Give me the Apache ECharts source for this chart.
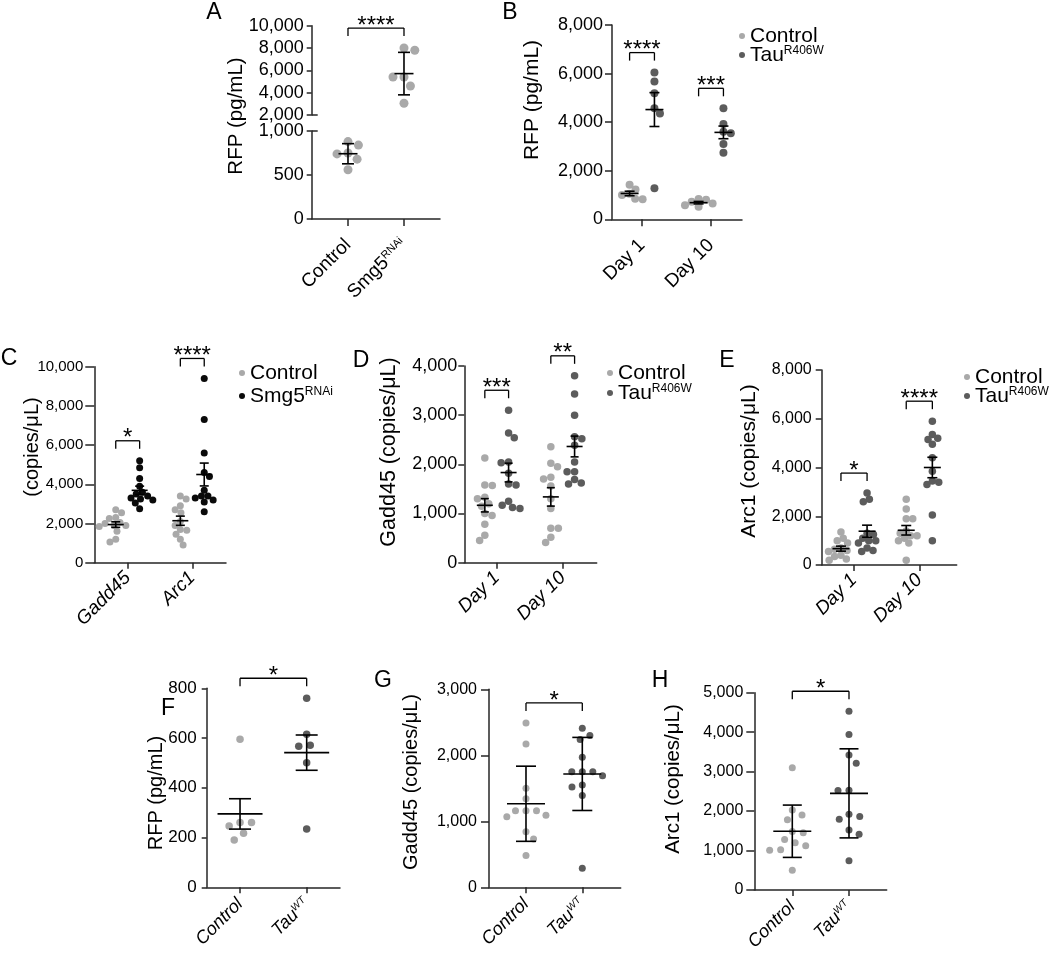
<!DOCTYPE html>
<html><head><meta charset="utf-8">
<script src="https://cdn.jsdelivr.net/npm/echarts@6/dist/echarts.min.js"></script>
<style>html,body{margin:0;padding:0;background:#fff}#c{width:1050px;height:959px}</style>
</head><body><div id="c"></div>
<script>
// ================= DATA =================
// Panel A
const aCategories = ['Control', 'Smg5^RNAi'];
const aYTicksUpper = [2000, 4000, 6000, 8000, 10000];
const aYTicksLower = [0, 500, 1000];
const aControl = [880, 840, 750, 740, 680, 560];
const aSmg5 = [8000, 7800, 5400, 5400, 4600, 3050];
// Panel B
const bCategories = ['Day 1', 'Day 10'];
const bYTicks = [0, 2000, 4000, 6000, 8000];
const bControlDay1 = [1420, 1230, 1050, 1000, 850, 830];
const bTauDay1 = [6040, 5670, 5190, 4570, 4360, 1280];
const bControlDay10 = [840, 800, 720, 650, 580, 520];
const bTauDay10 = [4570, 3920, 3600, 3540, 3100, 2740];
// Panel C
const cCategories = ['Gadd45', 'Arc1'];
const cYTicks = [0, 2000, 4000, 6000, 8000, 10000];
const cControlGadd45 = [2700, 2550, 2300, 2250, 2050, 2000, 1900, 1900, 1850, 1600, 1200, 1050];
const cSmg5Gadd45 = [5200, 4850, 4300, 3900, 3600, 3500, 3400, 3300, 3250, 3200, 3050, 2750];
const cControlArc1 = [3400, 3250, 2900, 2700, 2550, 2100, 1900, 1700, 1650, 1450, 1200, 900];
const cSmg5Arc1 = [9400, 7300, 5600, 4600, 4400, 3700, 3400, 3400, 3300, 3200, 3100, 2600];
// Panel D
const dCategories = ['Day 1', 'Day 10'];
const dYTicks = [0, 1000, 2000, 3000, 4000];
const dControlDay1 = [2130, 1580, 1570, 1330, 1300, 1200, 1150, 1000, 960, 780, 560, 450];
const dTauDay1 = [3100, 2640, 2540, 2050, 2030, 1820, 1600, 1580, 1250, 1170, 1120, 1100];
const dControlDay10 = [2360, 2020, 1950, 1740, 1700, 1560, 1300, 1100, 700, 700, 520, 410];
const dTauDay10 = [3800, 3430, 3000, 2560, 2520, 2390, 2050, 1850, 1850, 1690, 1620, 1600];
// Panel E
const eCategories = ['Day 1', 'Day 10'];
const eYTicks = [0, 2000, 4000, 6000, 8000];
const eControlDay1 = [1350, 1100, 1000, 900, 700, 650, 600, 550, 400, 350, 250, 200];
const eTauDay1 = [2950, 2700, 2600, 1300, 1250, 1100, 1000, 1000, 900, 700, 590, 550];
const eControlDay10 = [2700, 2300, 1900, 1900, 1400, 1300, 1200, 1200, 1100, 1000, 900, 200];
const eTauDay10 = [5900, 5350, 5200, 5150, 4950, 4400, 3850, 3450, 3400, 3300, 2050, 1000];
// Panel F
const fCategories = ['Control', 'Tau^WT'];
const fYTicks = [0, 200, 400, 600, 800];
const fControl = [595, 261, 261, 246, 217, 190];
const fTau = [760, 615, 571, 567, 501, 234];
// Panel G
const gCategories = ['Control', 'Tau^WT'];
const gYTicks = [0, 1000, 2000, 3000];
const gControl = [2490, 2170, 1500, 1340, 1160, 1160, 1160, 1090, 1070, 840, 730, 480];
const gTau = [2410, 2300, 2240, 1970, 1750, 1750, 1750, 1690, 1550, 1520, 1390, 290];
// Panel H
const hCategories = ['Control', 'Tau^WT'];
const hYTicks = [0, 1000, 2000, 3000, 4000, 5000];
const hControl = [3100, 2030, 1900, 1780, 1480, 1450, 1280, 1200, 1120, 1020, 1010, 500];
const hTau = [4530, 3940, 3420, 3210, 2530, 2520, 1920, 1860, 1790, 1520, 1410, 740];

// ================= STYLE / HELPERS =================
const FONT = '"Liberation Sans", Arial, Helvetica, sans-serif';
const LIGHT = '#a9a9a9', DARK = '#5c5c5c', BLACK = '#0a0a0a';
const AXIS = '#262626';

const option = {
  animation: false, backgroundColor: '#ffffff', textStyle: { fontFamily: FONT },
  grid: [], xAxis: [], yAxis: [], series: [], graphic: []
};

function fmtNum(v) { return String(v).replace(/\B(?=(\d{3})+(?!\d))/g, ','); }
function rich(s) { const p = s.split('^'); return p.length > 1 ? p[0] + '{sup|' + p[1] + '}' : s; }
function mean(a) { return a.reduce((s, v) => s + v, 0) / a.length; }
function sd(a) { const m = mean(a); return Math.sqrt(a.reduce((s, v) => s + (v - m) * (v - m), 0) / (a.length - 1)); }
function sem(a) { return sd(a) / Math.sqrt(a.length); }

// greedy beeswarm: each point goes to the nearest free horizontal slot (in px)
function swarm(values, pxPerY, dist) {
  const order = values.map((v, i) => i).sort((a, b) => values[b] - values[a]);
  const placed = [], offs = new Array(values.length).fill(0);
  let side = 1;
  order.forEach(k => {
    const y = values[k] * pxPerY;
    const cands = [0];
    placed.forEach(p => {
      const dy = Math.abs(p.y - y);
      if (dy < dist) { const dx = Math.sqrt(dist * dist - dy * dy) + 0.01; cands.push(p.x + dx, p.x - dx); }
    });
    cands.sort((a, b) => (Math.abs(a) - Math.abs(b)) || (Math.sign(b) === side ? 1 : -1));
    for (const c of cands) {
      if (placed.every(p => (p.x - c) * (p.x - c) + (p.y - y) * (p.y - y) >= dist * dist - 0.05)) {
        offs[k] = c; placed.push({ x: c, y: y });
        if (c !== 0) side = -Math.sign(c);
        break;
      }
    }
  });
  return offs;
}

function errRender(mh, ch) {
  return function (params, api) {
    const x = api.value(0), m = api.value(1), e = api.value(2);
    const pm = api.coord([x, m]), pt = api.coord([x, m + e]), pb = api.coord([x, m - e]);
    const st = { stroke: '#000', lineWidth: 1.6 };
    return { type: 'group', children: [
      { type: 'line', shape: { x1: pm[0] - mh, y1: pm[1], x2: pm[0] + mh, y2: pm[1] }, style: st },
      { type: 'line', shape: { x1: pt[0], y1: pt[1], x2: pb[0], y2: pb[1] }, style: st },
      { type: 'line', shape: { x1: pt[0] - ch, y1: pt[1], x2: pt[0] + ch, y2: pt[1] }, style: st },
      { type: 'line', shape: { x1: pb[0] - ch, y1: pb[1], x2: pb[0] + ch, y2: pb[1] }, style: st }
    ] };
  };
}

function bracketRender(text, fs) {
  return function (params, api) {
    const p1 = api.coord([api.value(0), api.value(2)]);
    const p2 = api.coord([api.value(1), api.value(2)]);
    const y = p1[1] - 20, leg = 8;
    const st = { stroke: '#000', lineWidth: 1.3 };
    return { type: 'group', children: [
      { type: 'line', shape: { x1: p1[0], y1: y + leg, x2: p1[0], y2: y }, style: st },
      { type: 'line', shape: { x1: p1[0], y1: y, x2: p2[0], y2: y }, style: st },
      { type: 'line', shape: { x1: p2[0], y1: y, x2: p2[0], y2: y + leg }, style: st },
      { type: 'text', x: (p1[0] + p2[0]) / 2, y: y - 2,
        style: { text: text, fontSize: fs, fontFamily: FONT, fill: '#000', align: 'center', verticalAlign: 'middle' } }
    ] };
  };
}

function breakRender(params, api) {
  const p = api.coord([api.value(0), api.value(1)]);
  return { type: 'line', shape: { x1: p[0], y1: p[1], x2: p[0] + 6, y2: p[1] }, style: { stroke: AXIS, lineWidth: 1.5 } };
}

function buildPanel(p) {
  const blockIdx = p.blocks.map(b => {
    const gi = option.grid.length;
    option.grid.push({ left: b.grid[0], top: b.grid[1], width: b.grid[2], height: b.grid[3], containLabel: false, outerBoundsMode: 'none' });
    const showX = b.showX !== false;
    option.xAxis.push({
      type: 'value', gridIndex: gi, min: p.xRange[0], max: p.xRange[1], show: showX,
      axisLine: { show: true, onZero: false, lineStyle: { color: AXIS, width: 1.5 } },
      axisTick: { show: true, customValues: p.xTicks, length: p.xTickLen, lineStyle: { color: AXIS, width: 1.5 } },
      axisLabel: {
        show: true, customValues: p.xTicks, rotate: 45, margin: p.xMargin,
        fontSize: p.xFont, fontStyle: p.xItalic ? 'italic' : 'normal', fontFamily: FONT, color: '#000',
        formatter: v => rich(p.xLabels[Math.round(v) - 1] || ''),
        rich: { sup: { fontSize: Math.round(p.xFont * 0.58), fontStyle: p.xItalic ? 'italic' : 'normal', fontFamily: FONT, color: '#000', verticalAlign: 'top' } }
      },
      splitLine: { show: false }
    });
    const yt = b.yTicks;
    option.yAxis.push({
      type: 'value', gridIndex: gi, min: yt[0], max: yt[yt.length - 1], interval: yt[1] - yt[0],
      axisLine: { show: true, onZero: false, lineStyle: { color: AXIS, width: 1.5 } },
      axisTick: { show: true, customValues: yt, length: b.tickLen, lineStyle: { color: AXIS, width: 1.5 } },
      axisLabel: { show: true, customValues: yt, formatter: v => fmtNum(v), fontSize: b.yFont, margin: b.labelMargin, color: '#000', fontFamily: FONT },
      splitLine: { show: false }
    });
    if (b.breakAt !== undefined) {
      option.series.push({ type: 'custom', xAxisIndex: gi, yAxisIndex: gi, silent: true, clip: false, z: 5,
        encode: { x: 0, y: 1 }, data: [[p.xRange[0], b.breakAt]], renderItem: breakRender });
    }
    return gi;
  });
  p.groups.forEach(g => {
    const bi = g.block || 0, b = p.blocks[bi], gi = blockIdx[bi];
    const yt = b.yTicks;
    const pxPerX = b.grid[2] / (p.xRange[1] - p.xRange[0]);
    const pxPerY = b.grid[3] / (yt[yt.length - 1] - yt[0]);
    const offs = swarm(g.values, pxPerY, p.gap);
    option.series.push({ type: 'scatter', xAxisIndex: gi, yAxisIndex: gi, symbol: 'circle', symbolSize: p.dot, silent: true, z: 2,
      itemStyle: { color: g.color, opacity: 1 }, data: g.values.map((v, i) => [g.x + offs[i] / pxPerX, v]) });
    const m = mean(g.values), e = p.err === 'sd' ? sd(g.values) : sem(g.values);
    option.series.push({ type: 'custom', xAxisIndex: gi, yAxisIndex: gi, silent: true, clip: false, z: 5,
      encode: { x: 0, y: 1 }, data: [[g.x, m, e]], renderItem: errRender(p.meanHalf, p.capHalf) });
  });
  p.brackets.forEach(br => {
    const gA = p.groups[br.a], gB = p.groups[br.b];
    const mA = Math.max(...gA.values), mB = Math.max(...gB.values);
    const bi = blockIdx[mA >= mB ? (gA.block || 0) : (gB.block || 0)];
    option.series.push({ type: 'custom', xAxisIndex: bi, yAxisIndex: bi, silent: true, clip: false, z: 5,
      encode: { x: [0, 1], y: 2 }, data: [[gA.x, gB.x, Math.max(mA, mB)]], renderItem: bracketRender(br.text, 24) });
  });
}

function addText(x, y, text, fs, rot) {
  option.graphic.push({ type: 'text', x: x, y: y, rotation: rot || 0, silent: true,
    style: { text: text, fontSize: fs, fontFamily: FONT, fill: '#000', align: 'center', verticalAlign: 'middle' } });
}
function addLegend(x, ys, items, fs) {
  items.forEach((it, i) => {
    option.graphic.push({ type: 'circle', silent: true, shape: { cx: x, cy: ys[i], r: 3 }, style: { fill: it.color } });
    option.graphic.push({ type: 'text', silent: true, x: x + 8, y: ys[i],
      style: { text: rich(it.name), fontSize: fs, fontFamily: FONT, fill: '#000', align: 'left', verticalAlign: 'middle',
        rich: { sup: { fontSize: 12, fontFamily: FONT, fill: '#000', verticalAlign: 'top' } } } });
  });
}

// ================= PANELS =================
const shB = 0.18, shC = 0.185, shD = 0.18, shE = 0.2;
buildPanel({
  blocks: [
    { grid: [311.7, 25.7, 128.3, 89.3], yTicks: aYTicksUpper, showX: false, yFont: 18, tickLen: 5, labelMargin: 8, breakAt: aYTicksUpper[0] },
    { grid: [311.7, 131, 128.3, 88], yTicks: aYTicksLower, yFont: 18, tickLen: 5, labelMargin: 8, breakAt: aYTicksLower[aYTicksLower.length - 1] }
  ],
  xRange: [0.352, 2.643], xTicks: [1, 2], xLabels: aCategories, xFont: 19, xItalic: false, xTickLen: 7, xMargin: 23,
  groups: [{ block: 1, x: 1, values: aControl, color: LIGHT }, { block: 0, x: 2, values: aSmg5, color: LIGHT }],
  err: 'sd', meanHalf: 9.5, capHalf: 6, dot: 9, gap: 11,
  brackets: [{ a: 0, b: 1, text: '****' }]
});
buildPanel({
  blocks: [{ grid: [612, 25, 130, 194.3], yTicks: bYTicks, yFont: 18, tickLen: 7, labelMargin: 9 }],
  xRange: [0.565, 2.449], xTicks: [1, 2], xLabels: bCategories, xFont: 19, xItalic: false, xTickLen: 7, xMargin: 23,
  groups: [
    { x: 1 - shB, values: bControlDay1, color: LIGHT }, { x: 1 + shB, values: bTauDay1, color: DARK },
    { x: 2 - shB, values: bControlDay10, color: LIGHT }, { x: 2 + shB, values: bTauDay10, color: DARK }
  ],
  err: 'sem', meanHalf: 9, capHalf: 5, dot: 8, gap: 7.5,
  brackets: [{ a: 0, b: 1, text: '****' }, { a: 2, b: 3, text: '***' }]
});
buildPanel({
  blocks: [{ grid: [94.3, 366.7, 131.7, 196], yTicks: cYTicks, yFont: 15, tickLen: 9, labelMargin: 11 }],
  xRange: [0.483, 2.522], xTicks: [1, 2], xLabels: cCategories, xFont: 19, xItalic: true, xTickLen: 6, xMargin: 12,
  groups: [
    { x: 1 - shC, values: cControlGadd45, color: LIGHT }, { x: 1 + shC, values: cSmg5Gadd45, color: BLACK },
    { x: 2 - shC, values: cControlArc1, color: LIGHT }, { x: 2 + shC, values: cSmg5Arc1, color: BLACK }
  ],
  err: 'sem', meanHalf: 8, capHalf: 4.5, dot: 7, gap: 6.5,
  brackets: [{ a: 0, b: 1, text: '*' }, { a: 2, b: 3, text: '****' }]
});
buildPanel({
  blocks: [{ grid: [464.3, 366, 132.4, 196.7], yTicks: dYTicks, yFont: 18, tickLen: 6, labelMargin: 7 }],
  xRange: [0.509, 2.515], xTicks: [1, 2], xLabels: dCategories, xFont: 19, xItalic: true, xTickLen: 6, xMargin: 12,
  groups: [
    { x: 1 - shD, values: dControlDay1, color: LIGHT }, { x: 1 + shD, values: dTauDay1, color: DARK },
    { x: 2 - shD, values: dControlDay10, color: LIGHT }, { x: 2 + shD, values: dTauDay10, color: DARK }
  ],
  err: 'sem', meanHalf: 8, capHalf: 4, dot: 7.5, gap: 7.5,
  brackets: [{ a: 0, b: 1, text: '***' }, { a: 2, b: 3, text: '**' }]
});
buildPanel({
  blocks: [{ grid: [821.7, 370, 135, 195], yTicks: eYTicks, yFont: 16, tickLen: 6, labelMargin: 10 }],
  xRange: [0.505, 2.573], xTicks: [1, 2], xLabels: eCategories, xFont: 19, xItalic: true, xTickLen: 6, xMargin: 12,
  groups: [
    { x: 1 - shE, values: eControlDay1, color: LIGHT }, { x: 1 + shE, values: eTauDay1, color: DARK },
    { x: 2 - shE, values: eControlDay10, color: LIGHT }, { x: 2 + shE, values: eTauDay10, color: DARK }
  ],
  err: 'sem', meanHalf: 8.5, capHalf: 5, dot: 7.5, gap: 6.5,
  brackets: [{ a: 0, b: 1, text: '*' }, { a: 2, b: 3, text: '****' }]
});
buildPanel({
  blocks: [{ grid: [206.7, 688.3, 133.3, 199], yTicks: fYTicks, yFont: 17, tickLen: 5, labelMargin: 10 }],
  xRange: [0.5, 2.5], xTicks: [1, 2], xLabels: fCategories, xFont: 18, xItalic: true, xTickLen: 6, xMargin: 14,
  groups: [{ x: 1, values: fControl, color: LIGHT }, { x: 2, values: fTau, color: DARK }],
  err: 'sem', meanHalf: 22.5, capHalf: 11, dot: 7.5, gap: 11.5,
  brackets: [{ a: 0, b: 1, text: '*' }]
});
buildPanel({
  blocks: [{ grid: [489, 689.3, 131.7, 198], yTicks: gYTicks, yFont: 16, tickLen: 8, labelMargin: 12 }],
  xRange: [0.343, 2.682], xTicks: [1, 2], xLabels: gCategories, xFont: 18, xItalic: true, xTickLen: 6, xMargin: 14,
  groups: [{ x: 1, values: gControl, color: LIGHT }, { x: 2, values: gTau, color: DARK }],
  err: 'sd', meanHalf: 19, capHalf: 10, dot: 7, gap: 10.5,
  brackets: [{ a: 0, b: 1, text: '*' }]
});
buildPanel({
  blocks: [{ grid: [754.3, 692.7, 132.4, 197.3], yTicks: hYTicks, yFont: 16, tickLen: 8, labelMargin: 11 }],
  xRange: [0.33, 2.665], xTicks: [1, 2], xLabels: hCategories, xFont: 18, xItalic: true, xTickLen: 6, xMargin: 14,
  groups: [{ x: 1, values: hControl, color: LIGHT }, { x: 2, values: hTau, color: DARK }],
  err: 'sd', meanHalf: 19, capHalf: 9.5, dot: 7, gap: 11,
  brackets: [{ a: 0, b: 1, text: '*' }]
});

// ================= TEXT: letters, axis titles, legends =================
[['A', 214, 13], ['B', 510, 13], ['C', 9, 359], ['D', 361, 361], ['E', 727, 361], ['F', 168, 709], ['G', 383, 681], ['H', 660, 681]]
  .forEach(l => addText(l[1], l[2], l[0], 23, 0));
addText(236, 116, 'RFP (pg/mL)', 20.5, Math.PI / 2);
addText(532, 100, 'RFP (pg/mL)', 21, Math.PI / 2);
addText(32, 447, '(copies/μL)', 20, Math.PI / 2);
addText(389, 452, 'Gadd45 (copies/μL)', 21.5, Math.PI / 2);
addText(749, 461, 'Arc1 (copies/μL)', 21, Math.PI / 2);
addText(156, 793, 'RFP (pg/mL)', 20, Math.PI / 2);
addText(411, 782, 'Gadd45 (copies/μL)', 20, Math.PI / 2);
addText(673, 779, 'Arc1 (copies/μL)', 20.5, Math.PI / 2);
addLegend(742, [36, 55], [{ name: 'Control', color: LIGHT }, { name: 'Tau^R406W', color: DARK }], 21);
addLegend(242, [373, 396], [{ name: 'Control', color: LIGHT }, { name: 'Smg5^RNAi', color: BLACK }], 21);
addLegend(610, [373, 393], [{ name: 'Control', color: LIGHT }, { name: 'Tau^R406W', color: DARK }], 21);
addLegend(967, [377, 396], [{ name: 'Control', color: LIGHT }, { name: 'Tau^R406W', color: DARK }], 21);

const chart = echarts.init(document.getElementById('c'), null, { renderer: 'canvas', width: 1050, height: 959 });
chart.setOption(option);
</script>
</body></html>
